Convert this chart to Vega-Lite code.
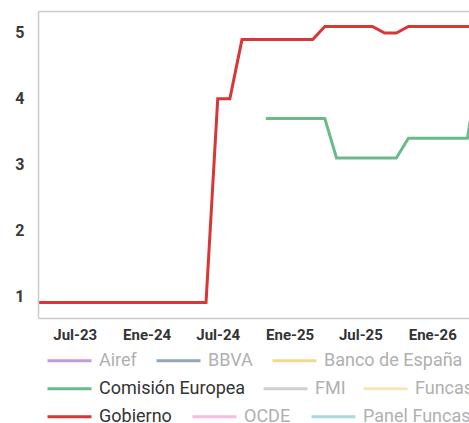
{
  "$schema": "https://vega.github.io/schema/vega-lite/v6.json",
  "autosize": "none",
  "padding": {"left": 38, "top": 11, "right": 0, "bottom": 105},
  "width": 431,
  "height": 307,
  "config": {"view": {"stroke": null}, "font": "Roboto"},
  "data": {"values": [
    {"fecha": "2023-04-01T00:00:00", "serie": "Gobierno", "valor": 0.9},
    {"fecha": "2023-05-01T00:00:00", "serie": "Gobierno", "valor": 0.9},
    {"fecha": "2023-06-01T00:00:00", "serie": "Gobierno", "valor": 0.9},
    {"fecha": "2023-07-01T00:00:00", "serie": "Gobierno", "valor": 0.9},
    {"fecha": "2023-08-01T00:00:00", "serie": "Gobierno", "valor": 0.9},
    {"fecha": "2023-09-01T00:00:00", "serie": "Gobierno", "valor": 0.9},
    {"fecha": "2023-10-01T00:00:00", "serie": "Gobierno", "valor": 0.9},
    {"fecha": "2023-11-01T00:00:00", "serie": "Gobierno", "valor": 0.9},
    {"fecha": "2023-12-01T00:00:00", "serie": "Gobierno", "valor": 0.9},
    {"fecha": "2024-01-01T00:00:00", "serie": "Gobierno", "valor": 0.9},
    {"fecha": "2024-02-01T00:00:00", "serie": "Gobierno", "valor": 0.9},
    {"fecha": "2024-03-01T00:00:00", "serie": "Gobierno", "valor": 0.9},
    {"fecha": "2024-04-01T00:00:00", "serie": "Gobierno", "valor": 0.9},
    {"fecha": "2024-05-01T00:00:00", "serie": "Gobierno", "valor": 0.9},
    {"fecha": "2024-06-01T00:00:00", "serie": "Gobierno", "valor": 0.9},
    {"fecha": "2024-07-01T00:00:00", "serie": "Gobierno", "valor": 4.0},
    {"fecha": "2024-08-01T00:00:00", "serie": "Gobierno", "valor": 4.0},
    {"fecha": "2024-09-01T00:00:00", "serie": "Gobierno", "valor": 4.9},
    {"fecha": "2024-10-01T00:00:00", "serie": "Gobierno", "valor": 4.9},
    {"fecha": "2024-11-01T00:00:00", "serie": "Gobierno", "valor": 4.9},
    {"fecha": "2024-12-01T00:00:00", "serie": "Gobierno", "valor": 4.9},
    {"fecha": "2025-01-01T00:00:00", "serie": "Gobierno", "valor": 4.9},
    {"fecha": "2025-02-01T00:00:00", "serie": "Gobierno", "valor": 4.9},
    {"fecha": "2025-03-01T00:00:00", "serie": "Gobierno", "valor": 4.9},
    {"fecha": "2025-04-01T00:00:00", "serie": "Gobierno", "valor": 5.1},
    {"fecha": "2025-05-01T00:00:00", "serie": "Gobierno", "valor": 5.1},
    {"fecha": "2025-06-01T00:00:00", "serie": "Gobierno", "valor": 5.1},
    {"fecha": "2025-07-01T00:00:00", "serie": "Gobierno", "valor": 5.1},
    {"fecha": "2025-08-01T00:00:00", "serie": "Gobierno", "valor": 5.1},
    {"fecha": "2025-09-01T00:00:00", "serie": "Gobierno", "valor": 5.0},
    {"fecha": "2025-10-01T00:00:00", "serie": "Gobierno", "valor": 5.0},
    {"fecha": "2025-11-01T00:00:00", "serie": "Gobierno", "valor": 5.1},
    {"fecha": "2025-12-01T00:00:00", "serie": "Gobierno", "valor": 5.1},
    {"fecha": "2026-01-01T00:00:00", "serie": "Gobierno", "valor": 5.1},
    {"fecha": "2026-02-01T00:00:00", "serie": "Gobierno", "valor": 5.1},
    {"fecha": "2026-03-01T00:00:00", "serie": "Gobierno", "valor": 5.1},
    {"fecha": "2026-04-01T00:00:00", "serie": "Gobierno", "valor": 5.1},
    {"fecha": "2026-05-01T00:00:00", "serie": "Gobierno", "valor": 5.1},
    {"fecha": "2024-11-01T00:00:00", "serie": "Comisión Europea", "valor": 3.7},
    {"fecha": "2024-12-01T00:00:00", "serie": "Comisión Europea", "valor": 3.7},
    {"fecha": "2025-01-01T00:00:00", "serie": "Comisión Europea", "valor": 3.7},
    {"fecha": "2025-02-01T00:00:00", "serie": "Comisión Europea", "valor": 3.7},
    {"fecha": "2025-03-01T00:00:00", "serie": "Comisión Europea", "valor": 3.7},
    {"fecha": "2025-04-01T00:00:00", "serie": "Comisión Europea", "valor": 3.7},
    {"fecha": "2025-05-01T00:00:00", "serie": "Comisión Europea", "valor": 3.1},
    {"fecha": "2025-06-01T00:00:00", "serie": "Comisión Europea", "valor": 3.1},
    {"fecha": "2025-07-01T00:00:00", "serie": "Comisión Europea", "valor": 3.1},
    {"fecha": "2025-08-01T00:00:00", "serie": "Comisión Europea", "valor": 3.1},
    {"fecha": "2025-09-01T00:00:00", "serie": "Comisión Europea", "valor": 3.1},
    {"fecha": "2025-10-01T00:00:00", "serie": "Comisión Europea", "valor": 3.1},
    {"fecha": "2025-11-01T00:00:00", "serie": "Comisión Europea", "valor": 3.4},
    {"fecha": "2025-12-01T00:00:00", "serie": "Comisión Europea", "valor": 3.4},
    {"fecha": "2026-01-01T00:00:00", "serie": "Comisión Europea", "valor": 3.4},
    {"fecha": "2026-02-01T00:00:00", "serie": "Comisión Europea", "valor": 3.4},
    {"fecha": "2026-03-01T00:00:00", "serie": "Comisión Europea", "valor": 3.4},
    {"fecha": "2026-04-01T00:00:00", "serie": "Comisión Europea", "valor": 3.4},
    {"fecha": "2026-05-01T00:00:00", "serie": "Comisión Europea", "valor": 4.5}
  ]},
  "encoding": {
    "x": {
      "field": "fecha", "type": "temporal",
      "scale": {"domain": [{"year": 2023, "month": 3, "date": 29}, {"year": 2026, "month": 4, "date": 5}]},
      "axis": {
        "orient": "bottom", "title": null, "ticks": false, "grid": false,
        "domainColor": "#cccccc", "domainWidth": 1.5,
        "values": [{"year": 2023, "month": 7, "date": 1}, {"year": 2024, "month": 1, "date": 1}, {"year": 2024, "month": 7, "date": 1}, {"year": 2025, "month": 1, "date": 1}, {"year": 2025, "month": 7, "date": 1}, {"year": 2026, "month": 1, "date": 1}],
        "labelExpr": "(month(datum.value) == 0 ? 'Ene' : 'Jul') + '-' + timeFormat(datum.value, '%y')",
        "labelFontSize": 15, "labelFontWeight": "bold", "labelColor": "#333333",
        "labelPadding": 9, "labelFlush": false, "labelOverlap": false
      }
    },
    "y": {
      "field": "valor", "type": "quantitative",
      "scale": {"domain": [0.6654, 5.3346], "nice": false, "zero": false},
      "axis": {
        "title": null, "ticks": false, "grid": false,
        "values": [1, 2, 3, 4, 5],
        "domainColor": "#cccccc", "domainWidth": 1.5,
        "labelFontSize": 16, "labelFontWeight": "bold", "labelColor": "#3a3a3a", "labelPadding": 14
      }
    }
  },
  "layer": [
    {
      "layer": [
        {
          "transform": [{"filter": {"field": "serie", "oneOf": ["Airef", "BBVA", "Banco de España"]}}],
          "mark": {"type": "line", "strokeWidth": 3, "clip": true},
          "encoding": {
            "color": {
              "field": "serie", "type": "nominal",
              "scale": {"domain": ["Airef", "BBVA", "Banco de España"], "range": ["#c39bd6", "#8ea8c0", "#f2d897"]},
              "legend": {
                "orient": "none", "legendX": 8, "legendY": 326, "direction": "horizontal", "title": null,
                "symbolType": "stroke", "symbolSize": 1936, "symbolStrokeWidth": 3,
                "labelFontSize": 18, "labelFont": "Roboto", "labelOffset": 6, "columnPadding": 13, "labelLimit": 300,
                "encode": {"labels": {"update": {"fill": {"signal": "indexof(['Comisión Europea','Gobierno'], datum.label) >= 0 ? '#333333' : '#b0b0b0'"}}}}
              }
            }
          }
        },
        {
          "transform": [{"filter": {"field": "serie", "oneOf": ["Comisión Europea", "FMI", "Funcas"]}}],
          "mark": {"type": "line", "strokeWidth": 3, "clip": true},
          "encoding": {
            "color": {
              "field": "serie", "type": "nominal",
              "scale": {"domain": ["Comisión Europea", "FMI", "Funcas"], "range": ["#6cba8b", "#cdd1d5", "#f7e6b5"]},
              "legend": {
                "orient": "none", "legendX": 8, "legendY": 354, "direction": "horizontal", "title": null,
                "symbolType": "stroke", "symbolSize": 1936, "symbolStrokeWidth": 3,
                "labelFontSize": 18, "labelFont": "Roboto", "labelOffset": 6, "columnPadding": 11, "labelLimit": 300,
                "encode": {"labels": {"update": {"fill": {"signal": "indexof(['Comisión Europea','Gobierno'], datum.label) >= 0 ? '#333333' : '#b0b0b0'"}}}}
              }
            }
          }
        },
        {
          "transform": [{"filter": {"field": "serie", "oneOf": ["Gobierno", "OCDE", "Panel Funcas"]}}],
          "mark": {"type": "line", "strokeWidth": 3, "clip": true},
          "encoding": {
            "color": {
              "field": "serie", "type": "nominal",
              "scale": {"domain": ["Gobierno", "OCDE", "Panel Funcas"], "range": ["#d93636", "#f2bde0", "#a7dadd"]},
              "legend": {
                "orient": "none", "legendX": 8, "legendY": 382, "direction": "horizontal", "title": null,
                "symbolType": "stroke", "symbolSize": 1936, "symbolStrokeWidth": 3,
                "labelFontSize": 18, "labelFont": "Roboto", "labelOffset": 6, "columnPadding": 14, "labelLimit": 300,
                "encode": {"labels": {"update": {"fill": {"signal": "indexof(['Comisión Europea','Gobierno'], datum.label) >= 0 ? '#333333' : '#b0b0b0'"}}}}
              }
            }
          }
        }
      ],
      "resolve": {"scale": {"color": "independent"}}
    },
    {
      "mark": {"type": "line", "strokeOpacity": 0},
      "encoding": {
        "x": {
          "field": "fecha", "type": "temporal",
          "axis": {"orient": "top", "title": null, "labels": false, "ticks": false, "grid": false, "domainColor": "#cccccc", "domainWidth": 1.5}
        }
      }
    }
  ],
  "resolve": {"axis": {"x": "independent"}}
}
